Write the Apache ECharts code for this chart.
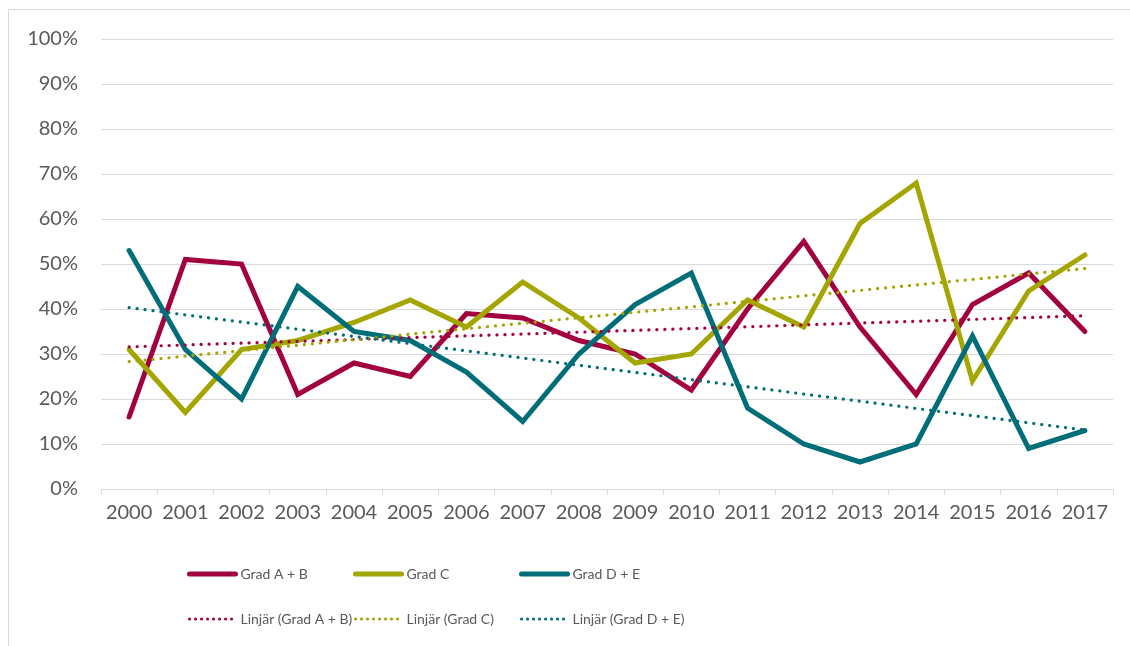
<!DOCTYPE html>
<html>
<head>
<meta charset="utf-8">
<script src="https://cdn.jsdelivr.net/npm/echarts@6/dist/echarts.min.js"></script>
<style>
  html, body { margin: 0; padding: 0; background: #fff; }
  #chart { width: 1130px; height: 646px; }
</style>
</head>
<body>
<div id="chart"></div>
<script>
// år på x-axeln
const years = ['2000', '2001', '2002', '2003', '2004', '2005', '2006', '2007', '2008',
  '2009', '2010', '2011', '2012', '2013', '2014', '2015', '2016', '2017']

// andel i procent
const gradAB = [16, 51, 50, 21, 28, 25, 39, 38, 33, 30, 22, 40, 55, 36, 21, 41, 48, 35]
const gradC = [31, 17, 31, 33, 37, 42, 36, 46, 38, 28, 30, 42, 36, 59, 68, 24, 44, 52]
const gradDE = [53, 31, 20, 45, 35, 33, 26, 15, 30, 41, 48, 18, 10, 6, 10, 34, 9, 13]

// trendlinjernas ändpunkter (2000 och 2017)
const trendAB = [31.6, 38.5]
const trendC = [28.3, 49.0]
const trendDE = [40.3, 13.1]

const yTicks = [0, 10, 20, 30, 40, 50, 60, 70, 80, 90, 100]

const colors = {
  ab: '#A3003F',
  c: '#A3A500',
  de: '#006E78'
}

function trendData(ends) {
  const arr = years.map(() => null)
  arr[0] = ends[0]
  arr[arr.length - 1] = ends[1]
  return arr
}

const font = 'Lato, "Open Sans", sans-serif'
const textColor = '#595959'

function lineSeries(name, data, color) {
  return {
    name: name,
    type: 'line',
    data: data,
    symbol: 'none',
    lineStyle: { color: color, width: 5, cap: 'round', join: 'miter' },
    itemStyle: { color: color },
    z: 3
  }
}

function trendSeries(name, ends, color) {
  return {
    name: name,
    type: 'line',
    data: trendData(ends),
    connectNulls: true,
    symbol: 'none',
    lineStyle: { color: color, width: 3.2, type: [0.1, 7.9], cap: 'round' },
    itemStyle: { color: color },
    z: 4
  }
}

// en kolumn i förklaringen: hel linje överst, trendlinje under
function legendCol(left, solid, dotted, color) {
  return {
    orient: 'vertical',
    left: left,
    top: 567,
    padding: 0,
    itemWidth: 46,
    itemHeight: 14,
    itemGap: 31,
    itemStyle: { opacity: 0 },
    data: [
      { name: solid, lineStyle: { color: color, width: 5, cap: 'round', type: 'solid' } },
      { name: dotted, lineStyle: { color: color, width: 3, cap: 'round', type: [0.1, 5.9] } }
    ],
    textStyle: { color: textColor, fontSize: 14, lineHeight: 14, fontFamily: font }
  }
}

const chart = echarts.init(document.getElementById('chart'))
chart.setOption({
  animation: false,
  backgroundColor: '#fff',
  graphic: [{
    type: 'polyline',
    shape: { points: [[8.5, 660], [8.5, 9.5], [1140, 9.5]] },
    style: { stroke: '#d9d9d9', fill: null, lineWidth: 1 }
  }],
  grid: { left: 101, right: 17, top: 39, bottom: 157 },
  legend: [
    legendCol(187, 'Grad A + B', 'Linjär (Grad A + B)', colors.ab),
    legendCol(353, 'Grad C', 'Linjär (Grad C)', colors.c),
    legendCol(519, 'Grad D + E', 'Linjär (Grad D + E)', colors.de)
  ],
  xAxis: {
    type: 'category',
    data: years,
    boundaryGap: true,
    axisLine: { lineStyle: { color: '#d9d9d9', width: 1 } },
    axisTick: { show: true, length: 6, lineStyle: { color: '#d9d9d9' } },
    axisLabel: { color: textColor, fontSize: 20, fontFamily: font, margin: 14, interval: 0 }
  },
  yAxis: {
    type: 'value',
    min: yTicks[0],
    max: yTicks[yTicks.length - 1],
    interval: 10,
    axisLine: { show: false },
    axisTick: { show: false },
    splitLine: { lineStyle: { color: '#d9d9d9', width: 1 } },
    axisLabel: {
      color: textColor, fontSize: 20, fontFamily: font, margin: 23,
      formatter: v => v + '%'
    }
  },
  series: [
    lineSeries('Grad A + B', gradAB, colors.ab),
    lineSeries('Grad C', gradC, colors.c),
    lineSeries('Grad D + E', gradDE, colors.de),
    trendSeries('Linjär (Grad A + B)', trendAB, colors.ab),
    trendSeries('Linjär (Grad C)', trendC, colors.c),
    trendSeries('Linjär (Grad D + E)', trendDE, colors.de)
  ]
})
</script>
</body>
</html>
